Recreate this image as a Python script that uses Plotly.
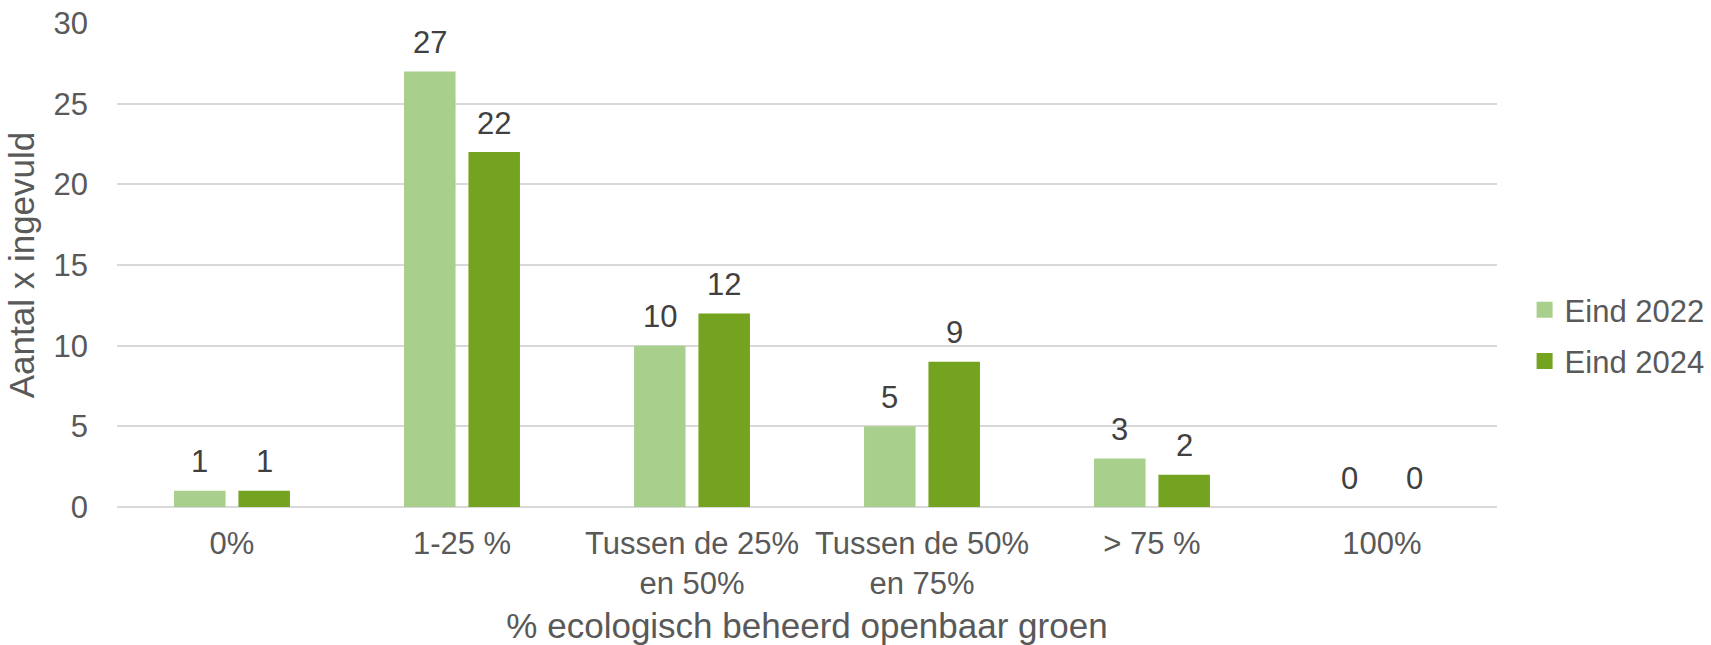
import plotly.graph_objects as go

categories = ["0%", "1-25 %", "Tussen de 25%<br>en 50%", "Tussen de 50%<br>en 75%", "> 75 %", "100%"]
eind_2022 = [1, 27, 10, 5, 3, 0]
eind_2024 = [1, 22, 12, 9, 2, 0]
series_names = ["Eind 2022", "Eind 2024"]
y_ticks = [0, 5, 10, 15, 20, 25, 30]

colors = ["#A9CF8C", "#74A320"]
font_family = "Liberation Sans, Arial, sans-serif"

fig = go.Figure()

for name, values, color in zip(series_names, [eind_2022, eind_2024], colors):
    fig.add_trace(go.Bar(
        x=categories,
        y=values,
        name=name,
        marker=dict(color=color, line=dict(width=0)),
        showlegend=False,
        hoverinfo="x+y+name"
    ))
    # legend-only entry with a bigger square swatch
    fig.add_trace(go.Scatter(
        x=[None], y=[None],
        mode="markers",
        name=name,
        legendgroup=name,
        marker=dict(symbol="square", size=17, color=color)
    ))

# data labels above each bar
for offset, values in zip([-32.2, 32.2], [eind_2022, eind_2024]):
    for cat, val in zip(categories, values):
        fig.add_annotation(
            x=cat, y=val,
            text=str(val),
            showarrow=False,
            xshift=offset,
            yshift=29,
            yanchor="middle",
            font=dict(family=font_family, size=31, color="#404040")
        )

fig.update_layout(
    width=1711,
    height=645,
    margin=dict(l=117, r=214, t=23, b=138, autoexpand=False),
    paper_bgcolor="white",
    plot_bgcolor="white",
    barmode="group",
    bargap=0.44,
    bargroupgap=0.2,
    font=dict(family=font_family, size=31, color="#595959"),
    legend=dict(
        x=1.02, y=0.354,
        xanchor="left", yanchor="middle",
        font=dict(size=31, color="#595959"),
        tracegroupgap=8,
        itemwidth=30
    ),
    showlegend=True
)

fig.update_xaxes(
    automargin=False,
    title=dict(text="% ecologisch beheerd openbaar groen", font=dict(size=35, color="#595959"), standoff=23),
    showgrid=False,
    showline=False,
    ticks="",
    tickfont=dict(size=31, color="#595959"),
    ticklabelstandoff=15
)

fig.update_yaxes(
    automargin=False,
    range=[0, 30],
    tickvals=y_ticks,
    showgrid=True,
    gridcolor="#D9D9D9",
    gridwidth=1.5,
    zeroline=True,
    zerolinecolor="#D9D9D9",
    zerolinewidth=1.5,
    showline=False,
    ticks="",
    tickfont=dict(size=31, color="#595959"),
    ticklabelstandoff=28,
    title=dict(text="Aantal x ingevuld", font=dict(size=35, color="#595959"), standoff=8)
)

# drop the default 8px body margin so the figure sits at the page corner
fig.write_html(
    "out.html",
    config={"displayModeBar": False},
    post_script="document.body.style.margin='0';"
)
